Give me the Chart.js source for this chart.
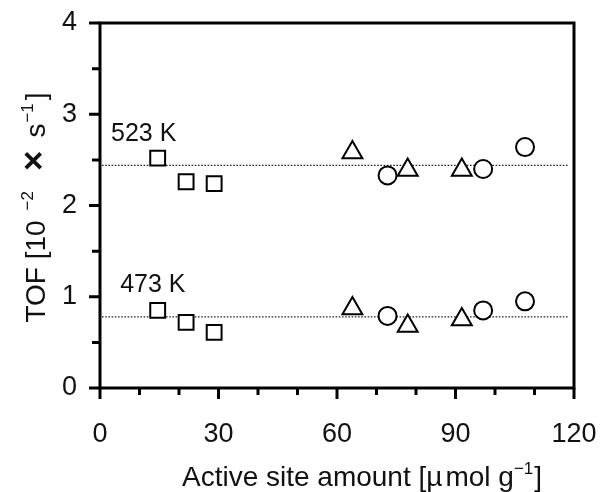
<!DOCTYPE html>
<html>
<head>
<meta charset="utf-8">
<script src="https://cdn.jsdelivr.net/npm/chart.js@4.4.1/dist/chart.umd.min.js"></script>
<style>
    html, body { margin: 0; padding: 0; background: #fff; }
    #wrap { width: 604px; height: 492px; }
</style>
</head>
<body>
<div id="wrap"><canvas id="tofChart"></canvas></div>
<script>
    // active site amount (x) per catalyst family
    const squareX = [14.6, 21.8, 28.9];
    const triangleX = [63.9, 77.9, 91.6];
    const circleX = [72.8, 97.0, 107.6];

    // TOF values, 523 K
    const square523 = [2.52, 2.26, 2.24];
    const triangle523 = [2.58, 2.39, 2.39];
    const circle523 = [2.33, 2.40, 2.64];

    // TOF values, 473 K
    const square473 = [0.85, 0.72, 0.61];
    const triangle473 = [0.87, 0.68, 0.75];
    const circle473 = [0.79, 0.85, 0.95];

    // mean levels (dotted lines)
    const meanLevels = [2.44, 0.78];
    const meanRangeX = [0.5, 118.5];
    const tempLabels = ['523 K', '473 K'];

    const xTickLabels = [0, 30, 60, 90, 120];
    const yTickLabels = [0, 1, 2, 3, 4];

    const FONT = '"Liberation Sans", Arial, sans-serif';

    function points(xs, ys) {
        return xs.map((x, i) => ({ x: x, y: ys[i] }));
    }

    function markerSet(label, data, style, radius) {
        return {
            type: 'scatter',
            label: label,
            data: data,
            pointStyle: style,
            pointRadius: radius,
            pointHoverRadius: radius,
            pointBorderWidth: 2,
            pointBorderColor: '#000',
            pointBackgroundColor: '#fff',
        };
    }

    function meanLine(level) {
        return {
            type: 'line',
            data: meanRangeX.map((x) => ({ x: x, y: level })),
            borderColor: '#222',
            borderWidth: 1.2,
            borderDash: [1.6, 1.6],
            pointRadius: 0,
            fill: false,
        };
    }

    // no label overhang: the plot box is placed by the layout padding only
    function fixScale(size) {
        return (scale) => {
            if (scale.isHorizontal()) {
                scale.height = size;
            } else {
                scale.width = size;
            }
            scale.paddingLeft = 0;
            scale.paddingRight = 0;
            scale.paddingTop = 0;
            scale.paddingBottom = 0;
        };
    }

    function partFont(p, size) {
        const px = p.sup ? size * 0.62 : size * (p.scale || 1);
        return (p.bold ? 'bold ' : '') + Math.round(px) + 'px ' + FONT;
    }

    function richWidth(ctx, parts, size) {
        let w = 0;
        parts.forEach((p) => {
            ctx.font = partFont(p, size);
            w += ctx.measureText(p.t).width + (p.gap || 0);
        });
        return w;
    }

    // text made of normal and superscript pieces, left-aligned at (x, y)
    function drawRich(ctx, parts, x, y, size) {
        parts.forEach((p) => {
            ctx.font = partFont(p, size);
            ctx.fillText(p.t, x, p.sup ? y - size * 0.42 : y);
            x += ctx.measureText(p.t).width + (p.gap || 0);
        });
    }

    const framePlugin = {
        id: 'frame',
        afterDraw(chart) {
            const ctx = chart.ctx;
            const area = chart.chartArea;
            const xs = chart.scales.x;
            const ys = chart.scales.y;

            ctx.save();
            ctx.strokeStyle = '#000';
            ctx.lineWidth = 3;
            ctx.lineCap = 'butt';
            ctx.strokeRect(area.left, area.top, area.right - area.left, area.bottom - area.top);

            ctx.beginPath();
            xs.ticks.forEach((t) => {
                const px = xs.getPixelForValue(t.value);
                const len = xTickLabels.includes(t.value) ? 11 : 7;
                ctx.moveTo(px, area.bottom);
                ctx.lineTo(px, area.bottom + len);
            });
            ys.ticks.forEach((t) => {
                const py = ys.getPixelForValue(t.value);
                const len = yTickLabels.includes(t.value) ? 11 : 8;
                ctx.moveTo(area.left, py);
                ctx.lineTo(area.left - len, py);
            });
            ctx.stroke();

            // temperature labels
            ctx.fillStyle = '#111';
            ctx.textBaseline = 'alphabetic';
            ctx.textAlign = 'left';
            ctx.font = '25px ' + FONT;
            ctx.fillText(tempLabels[0], xs.getPixelForValue(2.8), ys.getPixelForValue(meanLevels[0] + 0.27));
            ctx.fillText(tempLabels[1], xs.getPixelForValue(5.1), ys.getPixelForValue(meanLevels[1] + 0.27));

            // x axis title
            const xParts = [
                { t: 'Active site amount [\u00b5', gap: 3 },
                { t: 'mol g' },
                { t: '\u22121', sup: true, gap: 1 },
                { t: ']' },
            ];
            const xw = richWidth(ctx, xParts, 28);
            drawRich(ctx, xParts, (area.left + area.right) / 2 + 25 - xw / 2, 486, 28);

            // y axis title
            const yParts = [
                { t: 'TOF [10', gap: 10 },
                { t: '\u22122', sup: true, gap: 20 },
                { t: '\u00d7', bold: true, scale: 1.25, gap: 13 },
                { t: 's', gap: 1 },
                { t: '\u22121', sup: true, gap: 3 },
                { t: ']' },
            ];
            const yw = richWidth(ctx, yParts, 28);
            ctx.translate(45, (area.top + area.bottom) / 2 + 2);
            ctx.rotate(-Math.PI / 2);
            drawRich(ctx, yParts, -yw / 2, 0, 28);
            ctx.restore();
        },
    };

    new Chart(document.getElementById('tofChart'), {
        data: {
            datasets: [
                markerSet('squares 523 K', points(squareX, square523), 'rect', 10.5),
                markerSet('triangles 523 K', points(triangleX, triangle523), 'triangle', 11.5),
                markerSet('circles 523 K', points(circleX, circle523), 'circle', 9),
                markerSet('squares 473 K', points(squareX, square473), 'rect', 10.5),
                markerSet('triangles 473 K', points(triangleX, triangle473), 'triangle', 11.5),
                markerSet('circles 473 K', points(circleX, circle473), 'circle', 9),
                meanLine(meanLevels[0]),
                meanLine(meanLevels[1]),
            ],
        },
        options: {
            responsive: true,
            maintainAspectRatio: false,
            animation: false,
            events: [],
            layout: {
                padding: { top: 23, right: 30, left: 0, bottom: 0 },
            },
            plugins: {
                legend: { display: false },
                tooltip: { enabled: false },
            },
            scales: {
                x: {
                    type: 'linear',
                    min: 0,
                    max: 120,
                    afterFit: fixScale(104),
                    grid: { display: false },
                    border: { display: false },
                    ticks: {
                        stepSize: 10,
                        padding: 22,
                        color: '#111',
                        maxRotation: 0,
                        autoSkip: false,
                        font: { family: FONT, size: 27 },
                        callback: (v) => (xTickLabels.includes(v) ? String(v) : ''),
                    },
                },
                y: {
                    type: 'linear',
                    min: 0,
                    max: 4,
                    afterFit: fixScale(100),
                    grid: { display: false },
                    border: { display: false },
                    ticks: {
                        stepSize: 0.5,
                        padding: 15,
                        color: '#111',
                        autoSkip: false,
                        font: { family: FONT, size: 27 },
                        callback: (v) => (yTickLabels.includes(v) ? String(v) : ''),
                    },
                },
            },
        },
        plugins: [framePlugin],
    });
</script>
</body>
</html>
